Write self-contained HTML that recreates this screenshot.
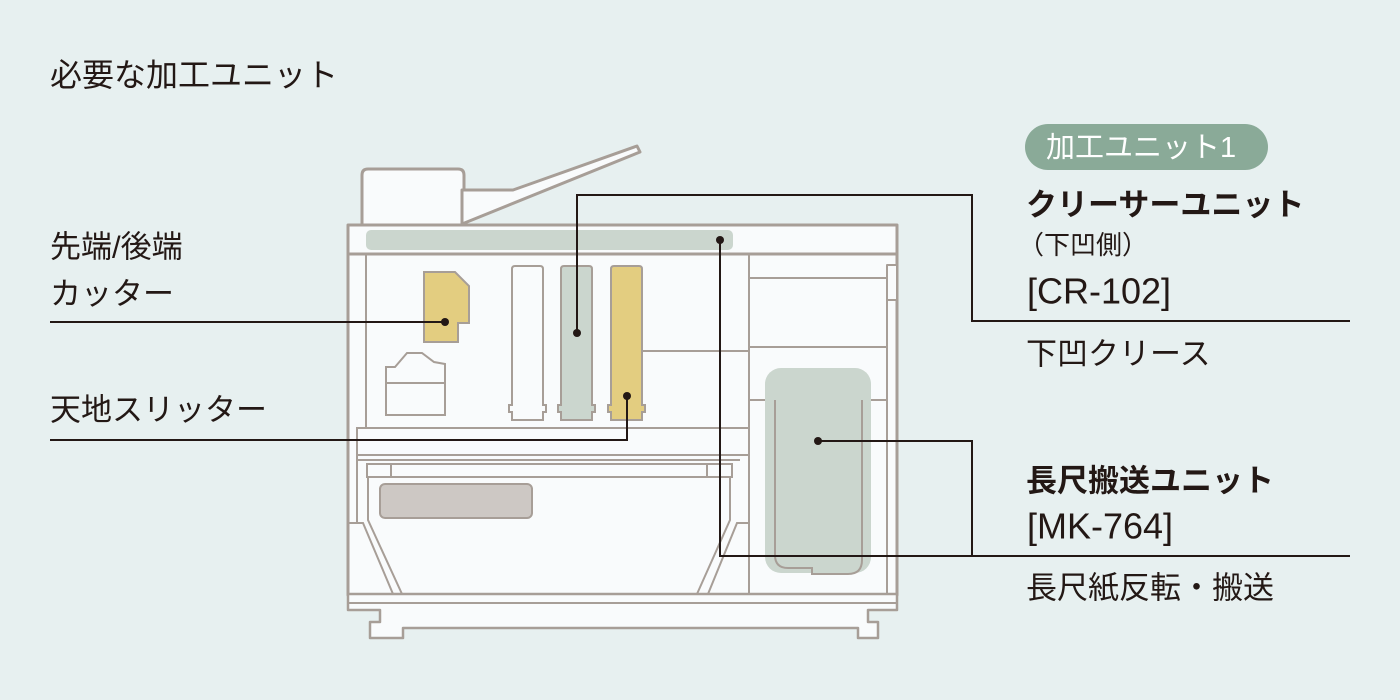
<!DOCTYPE html>
<html><head><meta charset="utf-8"><style>
html,body{margin:0;padding:0;background:#e7f0f0;}
svg{display:block;font-family:"Liberation Sans","Noto Sans CJK JP",sans-serif;}
</style></head><body>
<svg width="1400" height="700" viewBox="0 0 1400 700">
<rect width="1400" height="700" fill="#e7f0f0"/>
<g fill="#231815" dominant-baseline="central">
<text x="50" y="75" font-size="32">必要な加工ユニット</text>
<text x="50" y="247" font-size="31">先端/後端</text>
<text x="50" y="294" font-size="31">カッター</text>
<text x="50" y="410" font-size="31">天地スリッター</text>
<text x="1026" y="205" font-size="31" font-weight="bold">クリーサーユニット</text>
<text x="1018" y="245" font-size="26">（下凹側）</text>
<text x="1027" y="291" font-size="36">[CR-102]</text>
<text x="1026" y="354" font-size="31">下凹クリース</text>
<text x="1026" y="481" font-size="31" font-weight="bold">長尺搬送ユニット</text>
<text x="1027" y="526" font-size="36">[MK-764]</text>
<text x="1026" y="588" font-size="31">長尺紙反転・搬送</text>
</g>
<rect x="1025" y="124" width="243" height="46" rx="23" fill="#8aaa98"/>
<text x="1046" y="148" font-size="29" fill="#fff" dominant-baseline="central">加工ユニット1</text>

<g stroke="#a79e97" stroke-width="3" fill="#f9fbfc" stroke-linejoin="round">
<path d="M362 225 V175 Q362 169 368 169 H458 Q464 169 464 175 V225 Z"/>
<path d="M462 190 H513 L530 184 L637 146 L640 152 L462 224 Z"/>
<rect x="348" y="225" width="549" height="370"/>
<line x1="348" y1="254" x2="897" y2="254"/>
<path d="M887 265 H897 V300 H887 Z" stroke-width="2"/>
<path d="M348 594 H897 V610 H868 V622 H878 V638 H858 V628 H403 V638 H370 V622 H380 V610 H348 Z" stroke-width="2.5"/>
<line x1="348" y1="603" x2="897" y2="603" stroke-width="2"/>
</g>
<g stroke="#a79e97" stroke-width="2" fill="none">
<line x1="366" y1="254" x2="366" y2="428"/>
<line x1="749" y1="254" x2="749" y2="594"/>
<line x1="749" y1="278" x2="887" y2="278"/>
<line x1="749" y1="347" x2="887" y2="347"/>
<line x1="749" y1="400" x2="887" y2="400"/>
<line x1="887" y1="300" x2="887" y2="594"/>
<line x1="642" y1="351" x2="749" y2="351"/>
<rect x="357" y="428" width="392" height="27" fill="#f9fbfc"/>
<line x1="357" y1="460" x2="740" y2="460"/>
<path d="M367 464 H732 V477 H367 Z" fill="#f9fbfc"/>
<line x1="391" y1="464" x2="391" y2="477"/><line x1="707" y1="464" x2="707" y2="477"/>
<path d="M368 477 V520 L402 594"/>
<path d="M730 477 V520 L697 594"/>
<path d="M349 523 H363 L393 594"/>
<path d="M749 523 H737 L708 594"/>
<line x1="357" y1="455" x2="357" y2="523"/>
</g>
<rect x="366" y="230" width="367" height="20" rx="5" fill="#cbd6ce"/>
<path d="M424 272 H455 L469 286 V323 H458 V342 H424 Z" fill="#e3cd80" stroke="#a79e97" stroke-width="2"/>
<path d="M386 415 V367 H395 L407 353 H422 L434 362 L445 364 V415 Z" fill="#f9fbfc" stroke="#a79e97" stroke-width="2"/>
<line x1="386" y1="383" x2="445" y2="383" stroke="#a79e97" stroke-width="2"/>
<g stroke="#a79e97" stroke-width="2">
<path d="M512 269 Q512 266 515 266 H540 Q543 266 543 269 V405 H546 V412 H543 V420 H512 V412 H509 V405 H512 Z" fill="#f9fbfc"/>
<path d="M561 269 Q561 266 564 266 H589 Q592 266 592 269 V405 H595 V412 H592 V420 H561 V412 H558 V405 H561 Z" fill="#cbd6ce"/>
<path d="M611 269 Q611 266 614 266 H639 Q642 266 642 269 V405 H645 V412 H642 V420 H611 V412 H608 V405 H611 Z" fill="#e3cd80"/>
</g>
<rect x="380" y="484" width="152" height="34" rx="5" fill="#cdc8c4" stroke="#a79e97" stroke-width="2"/>
<rect x="765" y="368" width="106" height="205" rx="16" fill="#cbd6ce"/>
<path d="M775 400 V555 Q775 568 788 568 H812 V574 H848 Q862 574 862 560 V400" fill="none" stroke="#a79e97" stroke-width="2"/>
<g stroke="#231815" stroke-width="2" fill="none">
<path d="M50 322 H445"/>
<path d="M50 440 H627 V396"/>
<path d="M577 333 V195 H972 V321 H1350"/>
<path d="M720 240 V556 H1350"/>
<path d="M818 441 H972 V556"/>
</g>
<g fill="#231815">
<circle cx="445" cy="322" r="4"/><circle cx="627" cy="396" r="4"/>
<circle cx="577" cy="333" r="4"/><circle cx="720" cy="240" r="4"/>
<circle cx="818" cy="441" r="4"/>
</g>
</svg>
</body></html>
